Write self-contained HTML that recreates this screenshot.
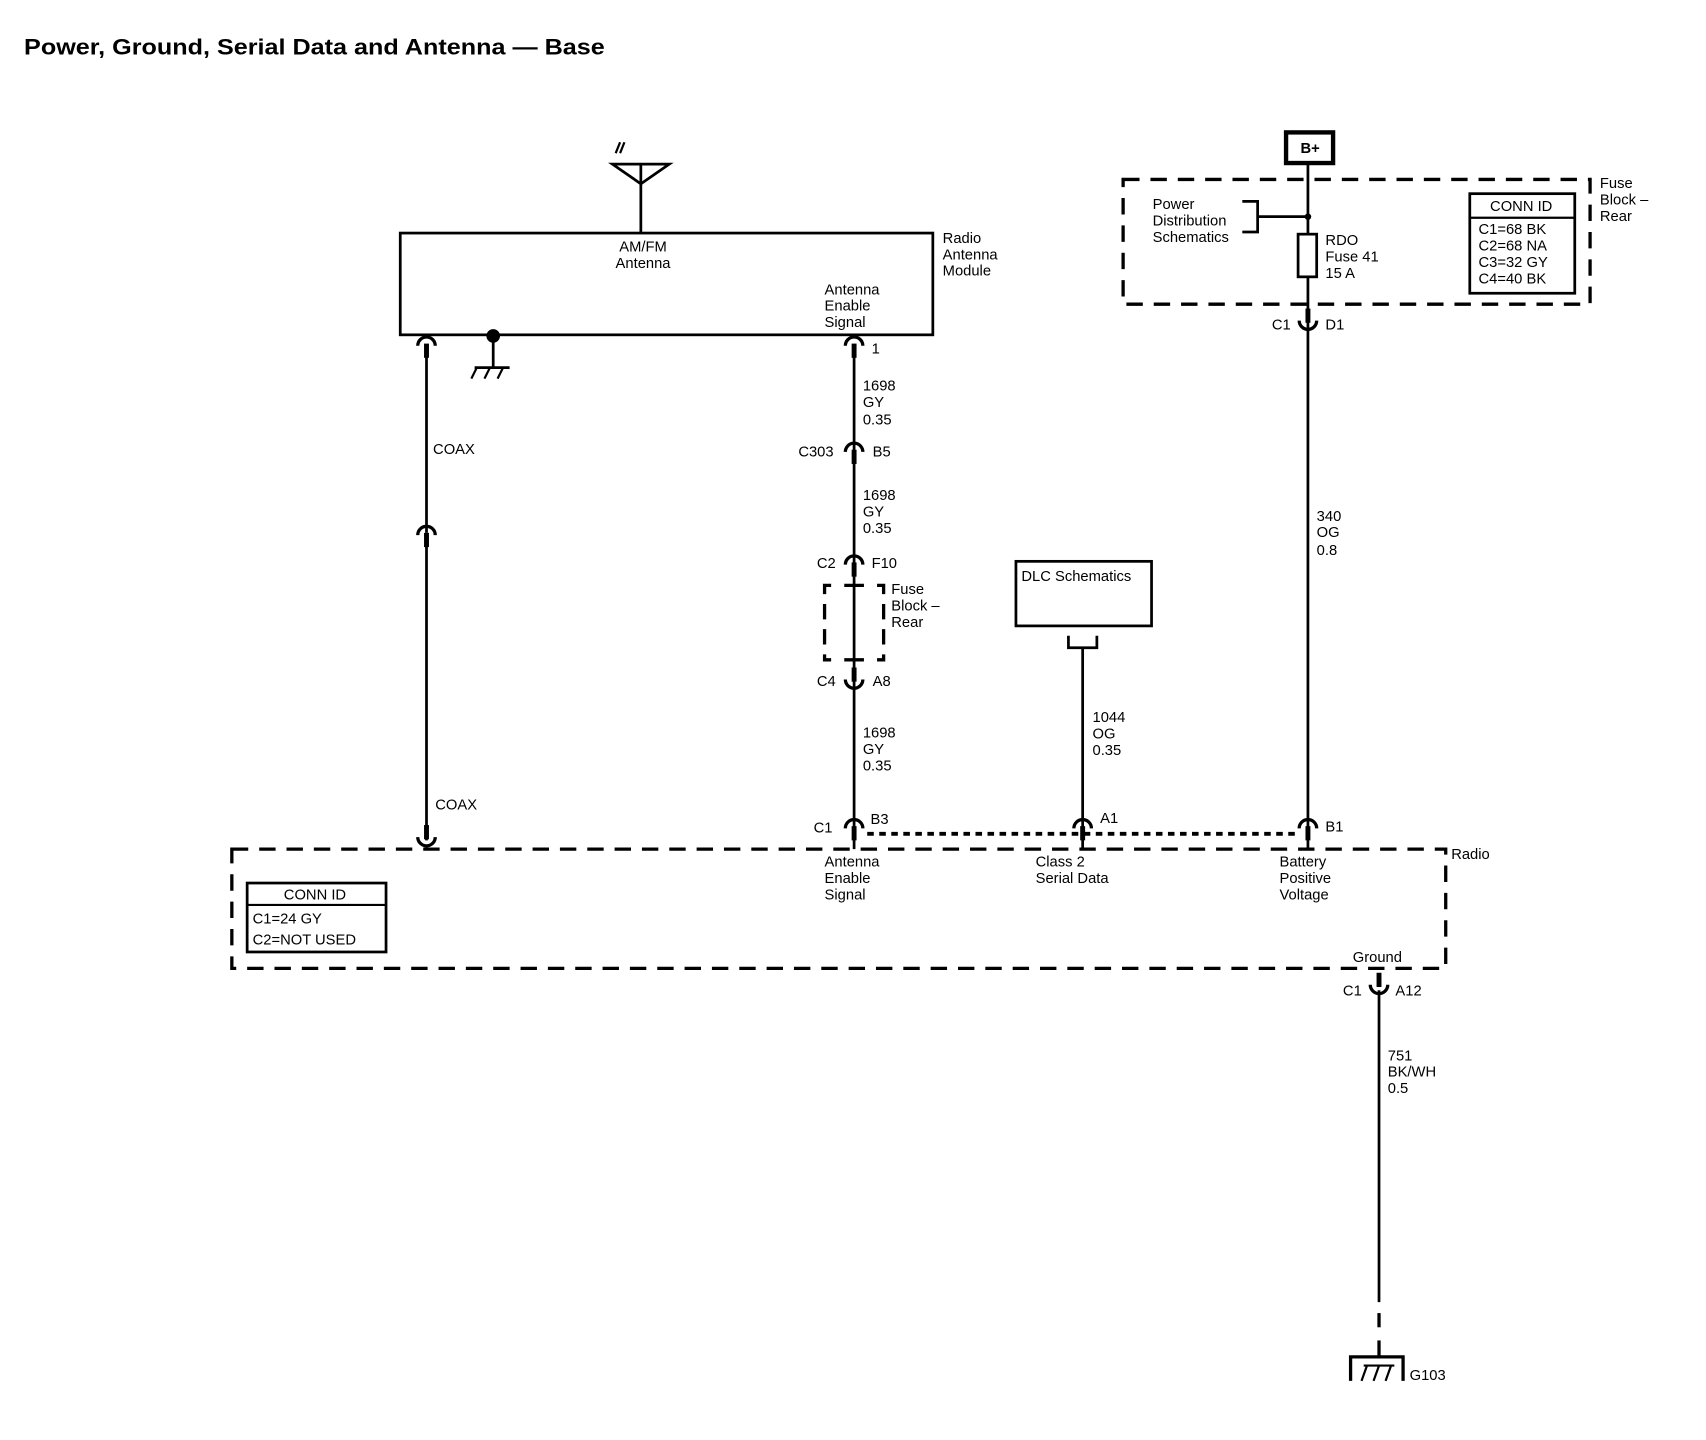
<!DOCTYPE html>
<html><head><meta charset="utf-8"><style>
html,body{margin:0;padding:0;background:#fff;}
svg{display:block;}
text{font-family:"Liberation Sans",Arial,sans-serif;font-size:13.5px;fill:#000;}
</style></head><body>
<svg width="1706" height="1440" viewBox="0 0 1560 1316" preserveAspectRatio="none" xmlns="http://www.w3.org/2000/svg">
<defs>
<g id="fem"><path d="M-8,5 A8,8 0 0 1 8,5" fill="none" stroke="#000" stroke-width="3"/><line x1="0" y1="3" x2="0" y2="16" stroke="#000" stroke-width="4.5"/></g>
<g id="male"><path d="M-8,-5 A8,8 0 0 0 8,-5" fill="none" stroke="#000" stroke-width="3"/><line x1="0" y1="-3" x2="0" y2="-16" stroke="#000" stroke-width="4.5"/></g>
</defs>
<text x="22" y="50" textLength="531" lengthAdjust="spacingAndGlyphs" style="font-size:20px;font-weight:bold">Power, Ground, Serial Data and Antenna — Base</text>

<!-- antenna -->
<g stroke="#000" stroke-width="2.5" fill="none">
<line x1="586" y1="150" x2="586" y2="213"/>
<path d="M560,150 L612,150 L586,168 Z"/>
<path d="M563,140 L567,130 M567,140 L571,130" stroke-width="2"/>
<rect x="366" y="213" width="487" height="93"/>
</g>
<text x="588" y="230" text-anchor="middle">AM/FM</text>
<text x="588" y="245" text-anchor="middle">Antenna</text>
<text x="754" y="269">Antenna</text><text x="754" y="284">Enable</text><text x="754" y="299">Signal</text>
<text x="862" y="222">Radio</text><text x="862" y="237">Antenna</text><text x="862" y="252">Module</text>

<!-- coax -->
<g stroke="#000" stroke-width="2.5">
<line x1="390" y1="316" x2="390" y2="487"/>
<line x1="390" y1="490" x2="390" y2="768"/>
<circle cx="451" cy="307" r="5" fill="#000"/>
<line x1="451" y1="307" x2="451" y2="336"/>
<line x1="434" y1="336" x2="466" y2="336"/>
<path d="M436,336 L431,346 M448,336 L443,346 M460,336 L455,346" stroke-width="2"/>
</g>
<use href="#fem" x="390" y="311"/>
<use href="#fem" x="390" y="484"/>
<use href="#male" x="390" y="770"/>
<text x="396" y="415">COAX</text>
<text x="398" y="740">COAX</text>

<!-- antenna enable wire -->
<line x1="781" y1="316" x2="781" y2="776" stroke="#000" stroke-width="2.5"/>
<use href="#fem" x="781" y="311"/>
<use href="#fem" x="781" y="408"/>
<use href="#fem" x="781" y="511"/>
<use href="#male" x="781" y="626"/>
<use href="#fem" x="781" y="752"/>
<text x="797" y="323">1</text>
<text x="789" y="357">1698</text><text x="789" y="372">GY</text><text x="789" y="388">0.35</text>
<text x="730" y="417">C303</text><text x="798" y="417">B5</text>
<text x="789" y="457">1698</text><text x="789" y="472">GY</text><text x="789" y="487">0.35</text>
<text x="747" y="519">C2</text><text x="797" y="519">F10</text>
<path d="M760,535 H754 V603 H760 M802,535 H808 V603 H802" fill="none" stroke="#000" stroke-width="3" stroke-dasharray="14,9"/>
<line x1="772" y1="535" x2="790" y2="535" stroke="#000" stroke-width="3"/>
<line x1="772" y1="603" x2="790" y2="603" stroke="#000" stroke-width="3"/>
<text x="815" y="543">Fuse</text><text x="815" y="558">Block –</text><text x="815" y="573">Rear</text>
<text x="747" y="627">C4</text><text x="798" y="627">A8</text>
<text x="789" y="674">1698</text><text x="789" y="689">GY</text><text x="789" y="704">0.35</text>
<text x="744" y="761">C1</text><text x="796" y="753">B3</text>

<!-- dotted line -->
<line x1="793" y1="762" x2="1186" y2="762" stroke="#000" stroke-width="3.5" stroke-dasharray="6,5"/>

<!-- DLC -->
<rect x="929" y="513" width="124" height="59" fill="none" stroke="#000" stroke-width="2.5"/>
<text x="934" y="531">DLC Schematics</text>
<path d="M977,581 V592 H1003 V581" fill="none" stroke="#000" stroke-width="2.5"/>
<line x1="990" y1="592" x2="990" y2="776" stroke="#000" stroke-width="2.5"/>
<use href="#fem" x="990" y="752"/>
<text x="999" y="660">1044</text><text x="999" y="675">OG</text><text x="999" y="690">0.35</text>
<text x="1006" y="752">A1</text>

<!-- battery -->
<rect x="1176" y="121" width="43" height="28" fill="none" stroke="#000" stroke-width="4"/>
<text x="1198" y="140" text-anchor="middle" style="font-weight:bold">B+</text>
<line x1="1196" y1="150" x2="1196" y2="776" stroke="#000" stroke-width="2.5"/>
<rect x="1027" y="164" width="427" height="114" fill="none" stroke="#000" stroke-width="3" stroke-dasharray="15,10"/>
<circle cx="1196" cy="198" r="3" fill="#000"/>
<path d="M1136,184 H1150 V212 H1136 M1150,198 H1196" fill="none" stroke="#000" stroke-width="2.5"/>
<text x="1054" y="191">Power</text><text x="1054" y="206">Distribution</text><text x="1054" y="221">Schematics</text>
<rect x="1187" y="214" width="17" height="39" fill="#fff" stroke="#000" stroke-width="2.5"/>
<text x="1212" y="224">RDO</text><text x="1212" y="239">Fuse 41</text><text x="1212" y="254">15 A</text>
<rect x="1344" y="177" width="96" height="91" fill="#fff" stroke="#000" stroke-width="2.5"/>
<line x1="1344" y1="199" x2="1440" y2="199" stroke="#000" stroke-width="2"/>
<text x="1391" y="193" text-anchor="middle">CONN ID</text>
<text x="1352" y="214">C1=68 BK</text><text x="1352" y="229">C2=68 NA</text><text x="1352" y="244">C3=32 GY</text><text x="1352" y="259">C4=40 BK</text>
<text x="1463" y="172">Fuse</text><text x="1463" y="187">Block –</text><text x="1463" y="202">Rear</text>
<use href="#male" x="1196" y="298"/>
<text x="1163" y="301">C1</text><text x="1212" y="301">D1</text>
<text x="1204" y="476">340</text><text x="1204" y="491">OG</text><text x="1204" y="507">0.8</text>
<use href="#fem" x="1196" y="752"/>
<text x="1212" y="760">B1</text>

<!-- radio -->
<rect x="212" y="776" width="1110" height="109" fill="none" stroke="#000" stroke-width="3" stroke-dasharray="15,10"/>
<text x="1327" y="785">Radio</text>
<rect x="226" y="807" width="127" height="63" fill="#fff" stroke="#000" stroke-width="2.5"/>
<line x1="226" y1="827" x2="353" y2="827" stroke="#000" stroke-width="2"/>
<text x="288" y="822" text-anchor="middle">CONN ID</text>
<text x="231" y="844">C1=24 GY</text><text x="231" y="863">C2=NOT USED</text>
<text x="754" y="792">Antenna</text><text x="754" y="807">Enable</text><text x="754" y="822">Signal</text>
<text x="947" y="792">Class 2</text><text x="947" y="807">Serial Data</text>
<text x="1170" y="792">Battery</text><text x="1170" y="807">Positive</text><text x="1170" y="822">Voltage</text>
<text x="1237" y="879">Ground</text>

<!-- ground wire -->
<use href="#male" x="1261" y="905"/>
<line x1="1261" y1="905" x2="1261" y2="1190" stroke="#000" stroke-width="2.5"/>
<line x1="1261" y1="1200" x2="1261" y2="1213" stroke="#000" stroke-width="3"/>
<line x1="1261" y1="1225" x2="1261" y2="1240" stroke="#000" stroke-width="3"/>
<text x="1228" y="910">C1</text><text x="1276" y="910">A12</text>
<text x="1269" y="969">751</text><text x="1269" y="984">BK/WH</text><text x="1269" y="999">0.5</text>
<path d="M1235,1262 V1240 H1283 V1262" fill="none" stroke="#000" stroke-width="3"/>
<path d="M1245,1262 L1250,1248 M1256,1262 L1261,1248 M1267,1262 L1272,1248 M1247,1248 H1275" fill="none" stroke="#000" stroke-width="2"/>
<text x="1289" y="1261">G103</text>
</svg>
</body></html>
